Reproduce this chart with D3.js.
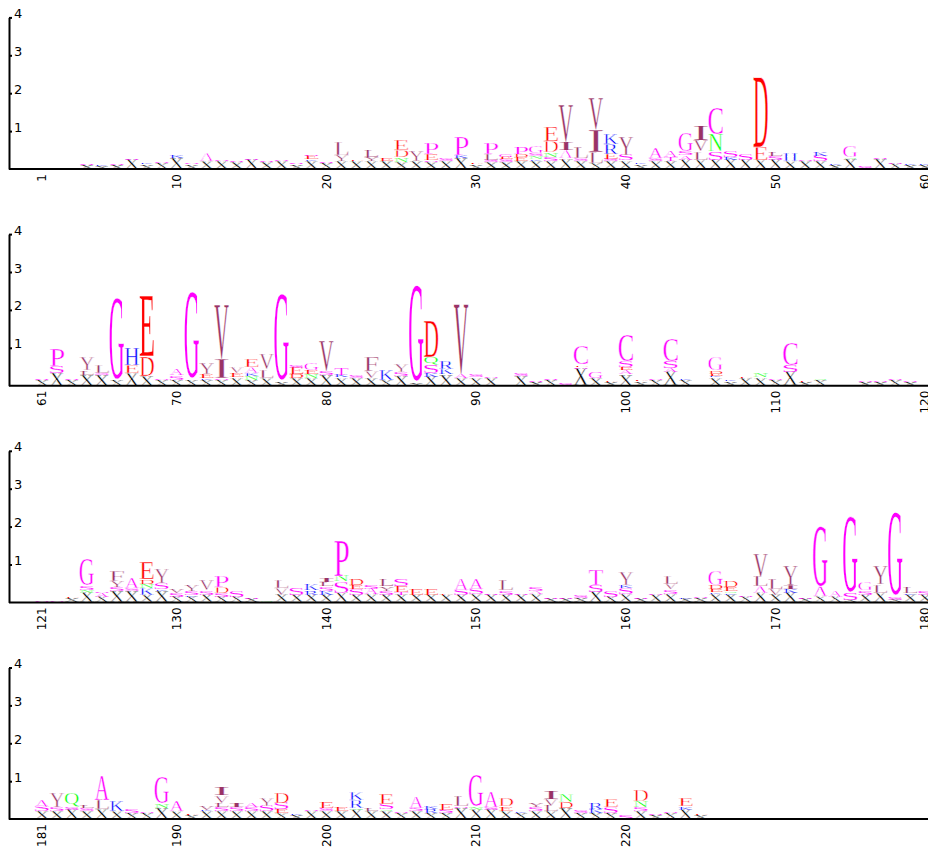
<!DOCTYPE html>
<html><head><meta charset="utf-8">
<script src="https://cdn.jsdelivr.net/npm/d3@7"></script>
<style>body{margin:0;background:#fff;overflow:hidden} svg{display:block}</style>
</head><body><svg id="c" width="928" height="852"></svg>
<script>
// Each entry: stack of letters bottom->top, letter + height in hundredths of bits
const row1 = ["S2","S2","S2","X10 S3","X8 K3","X10 S2","X24 S3","X12 K3","X15 S4","X28 K6",
"X12 S4","X20 A20","X22 S4","X18 S3","X24 S3","X18 S3","X20 S4","X12 S3","X20 K5 E10 S5","X15 S3",
"X22 Y15 L31","X22 E5","X22 Y10 L18","X20 E6","X19 N12 D18 E27","X20 Y25","X18 S5 E15 P28","X22 S8","X30 K6 P48","X12 E3",
"X18 S6 L15 P30","X18 S8 E6 G8","X20 E12 D8 P19","X20 K5 N8 S9 G20","X22 S10 N12 D28 E37","X24 L5 A20 I22 V98","X20 S8 L28","X15 L28 I60 V82","X20 S6 E13 R26 K25","X22 S15 Y48",
"X12 K4","X22 S8 A25","X20 T12 A13","X24 A12 S10 G48","X24 L22 V30 I36","X24 S22 N44 C70","X24 K6 S15","X24 S16","X24 E32 D183","X24 S10 L11",
"X22 H23","X20 S4","X20 S13 K12","X10 K3","X25 N5 G30","S6","X25 S3","X13 S4","X10 K4","X10 K3"];
const row2 = ["X15 S3","X33 S17 P44","X15 S3","X28 L12 Y34","X28 S6 L21","X15 G215","X33 E22 H44","X24 D53 E158","X15 S5","X15 S12 A13",
"X15 G228","X15 K5 E10 Y29","X15 S5 I50 V143","X22 E12 V16","X15 N10 K8 A15 E20","X20 L22 V40","X12 G229","X20 D10 E17 S8","X20 N10 E12 G18","X28 S10 V78",
"X22 K6 T17","X20 S8","X20 V17 F35","X15 K25","X24 S12 Y20","X8 G253","X24 K10 S21 Q18 D97","X30 K13 R20","X20 A10 V183","X22 S8",
"X20 S5","S5","X25 S8","X10 S3","X15 S3","S6","X45 S5 E5 C48","X20 G15","X10 E4","X30 A10 E8 S15 C72",
"X12 E3","X15 S5","X35 A10 S18 C60","X15 K5","S5","X22 K4 E6 D8 G34","X12 K4","X20 E5","X22 N12","X15 S5",
"X35 S19 C62","X10 E5","X15 N5","S5","K3","X10 S4","X10 S4","X15 S5","X10 S4","S5"];
const row3 = ["S5","S5","X12 E5","X25 N8 S10 G70","X15 A10 S5","X30 S10 Y15 F27","X30 S9 A25","X20 K18 N10 D12 E44","X30 K5 S15 Y36","X15 S10 V10",
"X15 K5 S10 Y15","X20 S12 V25","X15 S10 D16 P30","X15 S15","X10 S3","N5","X20 V18 L20","X20 S20","X20 R12 K13","X20 K10 S12 L12 I10",
"X25 S30 N13 P92","X20 S15 E10 D15","X22 A13 S10","X20 S10 Y12 L18","X20 T8 E16 S20","X20 E15","X20 E16","X20 E4","X20 S14 A30","X22 S13 A25",
"X20 S3","X20 S12 L25","X20 S2","X22 A8 S10","X10 S3","X10 S3","X12 S8","X28 S18 T40","X15 S15","X22 S16 K8 Y31",
"X10 S3","X20 S4","X22 S12 V15 L20","X10 K3","X12 S4","X22 K5 E8 D10 G37","X20 K5 N5 E10 D13","X15 S5","X25 A18 L26 V60","X20 V15 L25",
"X25 K9 I12 Y53","X10 S3","X16 A26 G158","X15 A15","X7 S18 G200","X20 S12 G23","X25 L22 Y48","X7 S8 G222","X20 K4 L16","X20 S10"];
const row4 = ["X20 S13 A18","X20 S12 Y35","X25 S7 Q35","X20 S8 L7","X25 L26 A62","X22 K25","X15 S10","X15 S5","X29 N12 G72","X22 A25",
"X12 E3","X22 K3 V10","X22 S10 L10 V20 I20","X22 S11 I10","X22 S11 A10","X20 S14 Y20","X16 E10 S17 D26","X10 K3","X22 S4","X22 S8 E15",
"X20 E10","X25 N5 R20 K23","X20 L6","X20 N5 S14 E25","X15 S5","X20 S10 A30","X15 R12 K8","X15 S10 E15","X28 S5 L24","X25 N7 G85",
"X25 S8 A40","X22 E12 D22","X15 K4","X22 S11 Y12","X22 L13 V18 I20","X30 D14 N20","X15 S8","X15 K12 R13","X15 S16 E20","S10",
"X20 S12 N15 D30","X12 S3","X15 S5","X25 K8 E20","X12 E5"];
const rowStarts = [1, 61, 121, 181];
const xTickLabels = [[1,10,20,30,40,50,60],[61,70,80,90,100,110,120],[121,130,140,150,160,170,180],[181,190,200,210,220]];
const yTicks = [1, 2, 3, 4];
const colors = {X:"#000000",G:"#ff00ff",P:"#ff00ff",A:"#ff00ff",C:"#ff00ff",S:"#ff00ff",T:"#ff00ff",
  D:"#ff0000",E:"#ff0000",K:"#0000ff",R:"#0000ff",H:"#0000ff",N:"#00ff00",Q:"#00ff00",
  V:"#993366",I:"#993366",L:"#993366",Y:"#993366",F:"#993366",M:"#993366",W:"#993366"};

const rows = [row1, row2, row3, row4];
const svg = d3.select("#c");
const x = d3.scaleLinear().domain([1, 60]).range([42, 925.2]);
const colW = x(2) - x(1);
const letterW = colW - 0.6;
const rowBase = r => 169 + 216.7 * r;
const unit = 37.9;
const FS = 100, FONT = "Liberation Serif";
const ctx = document.createElement("canvas").getContext("2d");
ctx.font = FS + 'px "' + FONT + '"';
const metrics = {};
function gm(ch) {
  if (!metrics[ch]) {
    const t = ctx.measureText(ch);
    metrics[ch] = {l: t.actualBoundingBoxLeft, r: t.actualBoundingBoxRight, a: t.actualBoundingBoxAscent, d: t.actualBoundingBoxDescent};
  }
  return metrics[ch];
}

rows.forEach((data, r) => {
  const base = rowBase(r);
  const y = d3.scaleLinear().domain([0, 4]).range([base, base - 4 * unit]);
  const g = svg.append("g");
  const marks = [];
  data.forEach((s, i) => {
    let acc = 0;
    s.split(" ").forEach(tok => {
      const ch = tok[0], h = +tok.slice(1) / 100;
      marks.push({ch, i: i + 1, y0: acc, y1: acc + h});
      acc += h;
    });
  });
  g.selectAll("text.l").data(marks).join("text").attr("class", "l")
    .text(d => d.ch)
    .attr("font-family", FONT).attr("font-size", FS)
    .attr("fill", d => colors[d.ch])
    .attr("stroke", "#fff").attr("stroke-width", 0.45).attr("vector-effect", "non-scaling-stroke")
    .attr("transform", d => {
      const m = gm(d.ch);
      const w = m.l + m.r, h = m.a + m.d;
      const x0 = x(d.i) - letterW / 2, top = y(d.y1), H = y(d.y0) - y(d.y1);
      return `translate(${x0},${top}) scale(${letterW / w},${H / h}) translate(${m.l},${m.a})`;
    });
  // baseline
  g.append("line").attr("x1", 9).attr("x2", 928).attr("y1", y(0)).attr("y2", y(0))
    .attr("stroke", "#000").attr("stroke-width", 2);
  // y axis
  const ya = g.append("g").attr("transform", "translate(9,0)")
    .call(d3.axisRight(y).tickValues(yTicks).tickFormat(d3.format("d")).tickSize(3).tickSizeOuter(0).tickPadding(2));
  ya.select(".domain").attr("stroke-width", 2);
  ya.selectAll(".tick line").attr("stroke-width", 2);
  ya.selectAll("text").attr("dy", "0").attr("font-family", "DejaVu Sans").attr("font-size", 13).attr("fill", "#000");
  // x labels
  g.selectAll("text.xl").data(xTickLabels[r]).join("text").attr("class", "xl")
    .text(d => d)
    .attr("transform", d => `translate(${x(d - rowStarts[r] + 1)},${base + 5}) rotate(-90)`)
    .attr("text-anchor", "end").attr("dy", "0.35em")
    .attr("font-family", "DejaVu Sans").attr("font-size", 12).attr("fill", "#000");
});
</script></body></html>
